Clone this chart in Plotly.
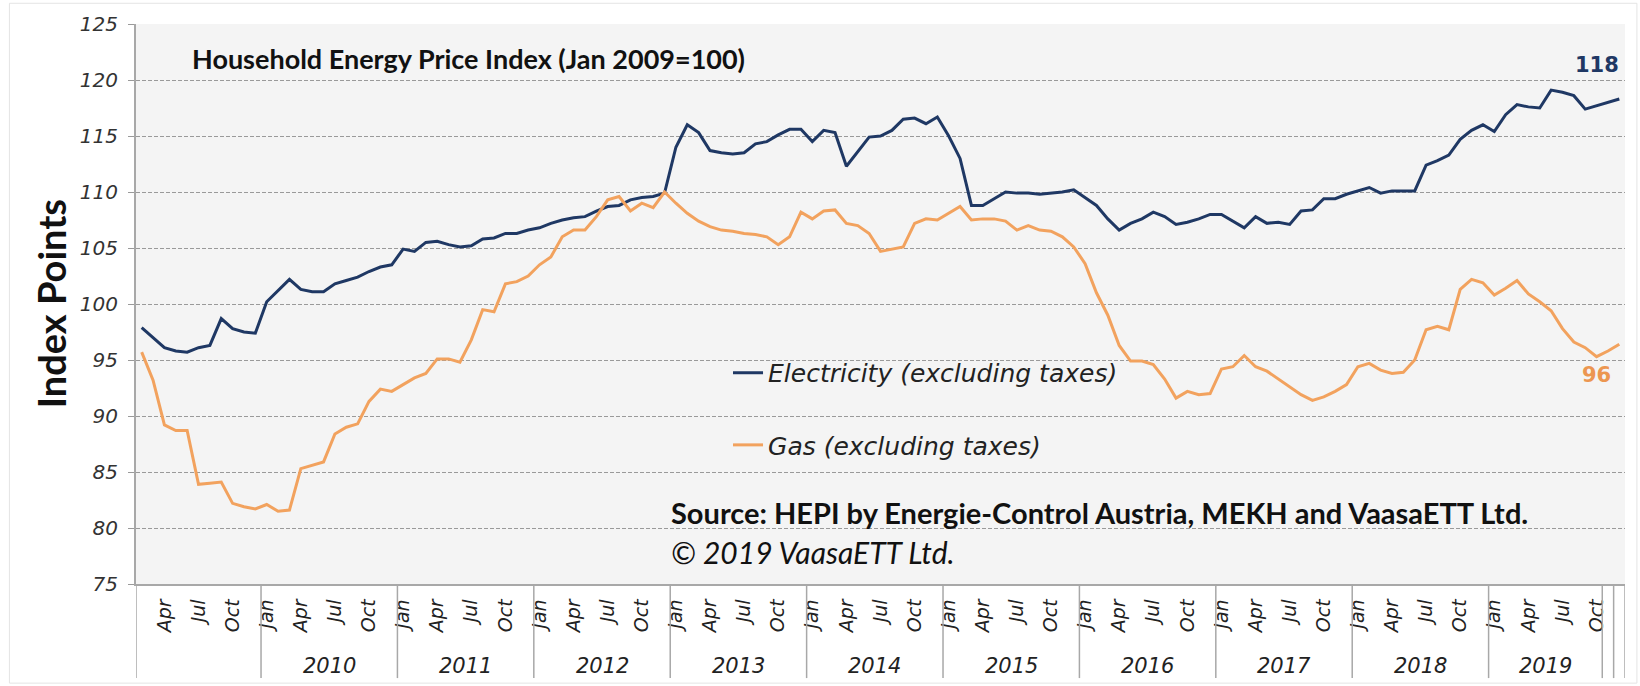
import plotly.graph_objects as go

# months Feb 2009 .. Dec 2019
month_names = ["Jan", "Feb", "Mar", "Apr", "May", "Jun",
               "Jul", "Aug", "Sep", "Oct", "Nov", "Dec"]
years = list(range(2009, 2020))
months = [f"{m} {y}" for y in years for m in month_names][1:]

electricity = [
    97.9, 97.0, 96.1, 95.8, 95.7, 96.1, 96.3, 98.7, 97.8, 97.5, 97.4,
    100.2, 101.2, 102.2, 101.3, 101.1, 101.1, 101.8, 102.1, 102.4, 102.9, 103.3, 103.5,
    104.9, 104.7, 105.5, 105.6, 105.3, 105.1, 105.2, 105.8, 105.9, 106.3, 106.3, 106.6,
    106.8, 107.2, 107.5, 107.7, 107.8, 108.3, 108.7, 108.8, 109.3, 109.5, 109.6, 109.9,
    114.0, 116.0, 115.3, 113.7, 113.5, 113.4, 113.5, 114.3, 114.5, 115.1, 115.6, 115.6,
    114.5, 115.5, 115.3, 112.3, 113.6, 114.9, 115.0, 115.5, 116.5, 116.6, 116.1, 116.7,
    115.0, 113.0, 108.8, 108.8, 109.4, 110.0, 109.9, 109.9, 109.8, 109.9, 110.0, 110.2,
    109.5, 108.8, 107.6, 106.6, 107.2, 107.6, 108.2, 107.8, 107.1, 107.3, 107.6, 108.0,
    108.0, 107.4, 106.8, 107.8, 107.2, 107.3, 107.1, 108.3, 108.4, 109.4, 109.4, 109.8,
    110.1, 110.4, 109.9, 110.1, 110.1, 110.1, 112.4, 112.8, 113.3, 114.7, 115.5, 116.0,
    115.4, 116.9, 117.8, 117.6, 117.5, 119.1, 118.9, 118.6, 117.4, 117.7, 118.0, 118.3,
]

gas = [
    95.7, 93.2, 89.2, 88.7, 88.7, 83.9, 84.0, 84.1, 82.2, 81.9, 81.7,
    82.1, 81.5, 81.6, 85.3, 85.6, 85.9, 88.4, 89.0, 89.3, 91.3, 92.4, 92.2,
    92.8, 93.4, 93.8, 95.1, 95.1, 94.8, 96.8, 99.5, 99.3, 101.8, 102.0, 102.5,
    103.5, 104.2, 106.0, 106.6, 106.6, 107.8, 109.3, 109.6, 108.3, 109.0, 108.6, 110.0,
    109.0, 108.1, 107.4, 106.9, 106.6, 106.5, 106.3, 106.2, 106.0, 105.3, 106.0, 108.2,
    107.6, 108.3, 108.4, 107.2, 107.0, 106.3, 104.7, 104.9, 105.1, 107.2, 107.6, 107.5,
    108.1, 108.7, 107.5, 107.6, 107.6, 107.4, 106.6, 107.0, 106.6, 106.5, 106.0, 105.1,
    103.6, 101.0, 99.0, 96.3, 94.9, 94.9, 94.6, 93.3, 91.6, 92.2, 91.9, 92.0,
    94.2, 94.4, 95.4, 94.4, 94.0, 93.3, 92.6, 91.9, 91.4, 91.7, 92.2, 92.8,
    94.4, 94.7, 94.1, 93.8, 93.9, 95.0, 97.7, 98.0, 97.7, 101.3, 102.2, 101.9,
    100.8, 101.4, 102.1, 100.9, 100.2, 99.4, 97.8, 96.6, 96.1, 95.3, 95.8, 96.4,
]

tick_months = ["Jan", "Apr", "Jul", "Oct"]
tick_vals = [m for m in months if m.split()[0] in tick_months]
tick_text = [m.split()[0] for m in tick_vals]

NAVY = "#1f3864"
ORANGE = "#f2a25e"
GRID = "#9a9a9a"
AXIS = "#a8a8a8"

fig = go.Figure()
fig.add_trace(go.Scatter(x=months, y=electricity, mode="lines",
                         name="Electricity (excluding taxes)", showlegend=True,
                         line=dict(color=NAVY, width=3), legend="legend"))
fig.add_trace(go.Scatter(x=months, y=gas, mode="lines",
                         name="Gas (excluding taxes)", showlegend=True,
                         line=dict(color=ORANGE, width=3), legend="legend2"))

# year group dividers and labels under the month ticks
n = len(months)
bottom = -0.168
starts = [months.index(f"Jan {y}") for y in years[1:]]
ends = starts[1:] + [months.index("Nov 2019")]
for y, s, e in zip(years[1:], starts, ends):
    fig.add_annotation(x=(s + e - 1) / 2, y=-0.146, xref="x", yref="paper", yanchor="middle",
                       text=str(y), showarrow=False,
                       font=dict(family="DejaVu Sans", size=21, color="#222", style="italic"))
bounds = [-0.5] + [s - 0.5 for s in starts] + [n - 2.5, n - 1.5, n - 0.5]
for b in bounds:
    fig.add_shape(type="line", xref="x", yref="paper", x0=b, x1=b, y0=0, y1=bottom,
                  line=dict(color=AXIS, width=1.5))

# end labels
fig.add_annotation(x=n - 3, y=121.3, xref="x", yref="y", text=f"<b>{round(electricity[-1])}</b>",
                   showarrow=False, font=dict(family="DejaVu Sans", size=21, color=NAVY))
fig.add_annotation(x=n - 3, y=93.7, xref="x", yref="y", text=f"<b>{round(gas[-1])}</b>",
                   showarrow=False, font=dict(family="DejaVu Sans", size=21, color="#ec9650"))

fig.add_annotation(x=0.0366, y=0.939, xref="paper", yref="paper", xanchor="left", yanchor="middle",
                   text="<b>Household Energy Price Index (Jan 2009=100)</b>", showarrow=False,
                   font=dict(family="Lato", size=27, color="#111"))
fig.add_annotation(x=-0.057, y=0.5, xref="paper", yref="paper", textangle=-90,
                   xanchor="center", yanchor="middle",
                   text="<b>Index Points</b>", showarrow=False,
                   font=dict(family="Lato", size=38, color="#111"))
fig.add_annotation(x=0.358, y=0.1268, xref="paper", yref="paper", xanchor="left", yanchor="middle",
                   text="<b>Source: HEPI by Energie-Control Austria, MEKH and VaasaETT Ltd.</b>",
                   showarrow=False, font=dict(family="Lato", size=29, color="#111"))
fig.add_annotation(x=0.358, y=0.0571, xref="paper", yref="paper", xanchor="left", yanchor="middle",
                   text="© 2019 VaasaETT Ltd.", showarrow=False,
                   font=dict(family="Lato", size=30, color="#111", style="italic"))

# outer frame
fig.add_shape(type="rect", xref="paper", yref="paper", x0=-0.085, x1=1.008, y0=-0.177, y1=1.037,
              line=dict(color="#e4e4e4", width=1))

legend_font = dict(family="DejaVu Sans", size=25, color="#222", style="italic")
fig.update_layout(
    width=1640, height=686,
    margin=dict(l=136, r=15, t=24, b=102),
    paper_bgcolor="white", plot_bgcolor="#f4f4f4",
    showlegend=True,
    legend=dict(x=0.3976, y=0.3768, xanchor="left", yanchor="middle",
                bgcolor="rgba(0,0,0,0)", font=legend_font),
    legend2=dict(x=0.3976, y=0.248, xanchor="left", yanchor="middle",
                 bgcolor="rgba(0,0,0,0)", font=legend_font),
    xaxis=dict(type="category", categoryorder="array", categoryarray=months,
               range=[-0.5, n - 0.5], tickmode="array", tickvals=tick_vals, ticktext=tick_text,
               tickangle=-90, showgrid=False, showline=True, linecolor=AXIS, linewidth=1.5,
               ticks="", ticklabelstandoff=6,
               tickfont=dict(family="DejaVu Sans", size=19, color="#222", style="italic")),
    yaxis=dict(range=[75, 125], dtick=5, showgrid=True, gridcolor=GRID, gridwidth=1,
               griddash="4px,2px", zeroline=False, showline=True, linecolor=AXIS, linewidth=2,
               ticks="outside", ticklen=6, tickcolor=GRID, ticklabelstandoff=6,
               tickfont=dict(family="DejaVu Sans", size=20, color="#333", style="italic")),
)

# drop the default page margin so the figure sits at the window's corner
fig.write_html("out.html", config={"displayModeBar": False},
               post_script="document.body.style.margin='0';")
